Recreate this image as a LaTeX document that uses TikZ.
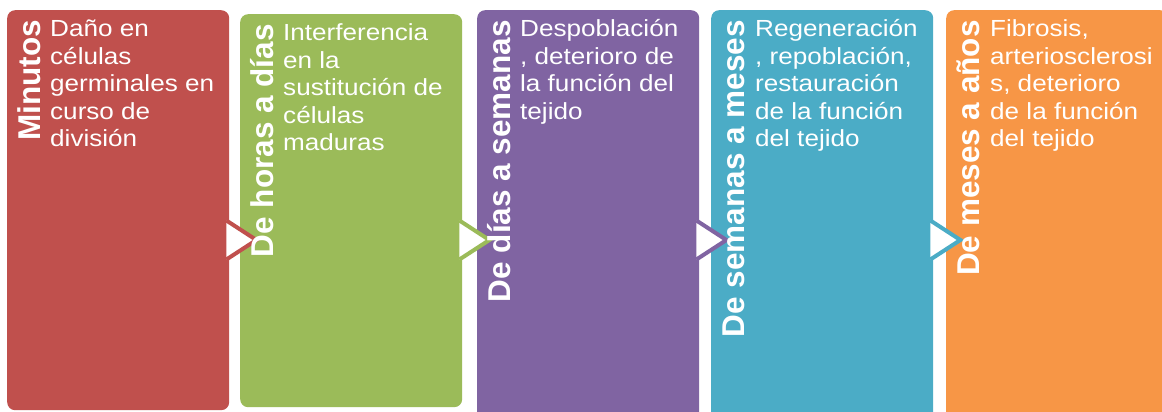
\documentclass[tikz,border=0pt]{standalone}
\usepackage{fontspec}
\setmainfont{Liberation Sans}
\definecolor{cred}{HTML}{C0504D}
\definecolor{cgreen}{HTML}{9BBB59}
\definecolor{cpurple}{HTML}{8064A2}
\definecolor{cblue}{HTML}{4BACC6}
\definecolor{corange}{HTML}{F79646}
\newcommand\flecha[2]{%
  \fill[white] ([xshift=-3pt,yshift=19.5pt]#1) -- ([xshift=27pt]#1) -- ([xshift=-3pt,yshift=-19.5pt]#1) -- cycle;
  \draw[#2, line width=4pt, miter limit=10] ([xshift=-3pt,yshift=19.5pt]#1) -- ([xshift=27pt]#1) -- ([xshift=-3pt,yshift=-19.5pt]#1);
}
\newcommand\bodytext[1]{\scalebox{1.12}[1]{\parbox[t]{170pt}{\raggedright #1}}}
\newcommand\titletext[1]{\scalebox{1.0}[1]{#1}}
\tikzset{
  box/.style={rounded corners=8pt, inner sep=0pt, anchor=north west, minimum width=222pt},
  ttl/.style={text=white, inner sep=0pt, rotate=90, anchor=base east, font=\fontsize{31.5}{31.5}\selectfont\bfseries},
  bdy/.style={text=white, inner sep=0pt, anchor=base west, font=\fontsize{23.3}{27.4}\selectfont},
}
\begin{document}
\begin{tikzpicture}[x=1pt,y=1pt]
\useasboundingbox (0,0) rectangle (1162,-412);
\begin{scope}
\clip (0,0) rectangle (1162,-412);
\node[box, fill=cred, minimum height=400pt] (b1) at (7,-10) {};
\node[box, fill=cgreen, minimum height=393pt] (b2) at (240,-14) {};
\node[box, fill=cpurple, minimum height=410pt] (b3) at (477,-10) {};
\node[box, fill=cblue, minimum height=410pt] (b4) at (711,-10) {};
\node[box, fill=corange, minimum height=410pt] (b5) at (946,-10) {};
\coordinate (mid) at (0,-240);
\coordinate (c1) at (b1.east |- mid);
\coordinate (c2) at (b2.east |- mid);
\coordinate (c3) at (b3.east |- mid);
\coordinate (c4) at (b4.east |- mid);
\flecha{c1}{cred}
\flecha{c2}{cgreen}
\flecha{c3}{cpurple}
\flecha{c4}{cblue}
\end{scope}
\node[ttl] (t1) at (40,-20) {\titletext{Minutos}};
\node[ttl] (t2) at (273,-24) {\titletext{De horas a días}};
\node[ttl] (t3) at (510,-20) {\titletext{De días a semanas}};
\node[ttl] (t4) at (744,-20) {\titletext{De semanas a meses}};
\node[ttl] (t5) at (979,-20) {\titletext{De meses a años}};
\node[bdy] (d1) at (50,-37) {\bodytext{Daño en\\células\\germinales en\\curso de\\división}};
\node[bdy] (d2) at (283,-41) {\bodytext{Interferencia\\en la\\sustitución de\\células\\maduras}};
\node[bdy] (d3) at (520,-37) {\bodytext{Despoblación\\, deterioro de\\la función del\\tejido}};
\node[bdy] (d4) at (755,-37) {\bodytext{Regeneración\\, repoblación,\\restauración\\de la función\\del tejido}};
\node[bdy] (d5) at (990,-37) {\bodytext{Fibrosis,\\arteriosclerosi\\s, deterioro\\de la función\\del tejido}};
\end{tikzpicture}
\end{document}
